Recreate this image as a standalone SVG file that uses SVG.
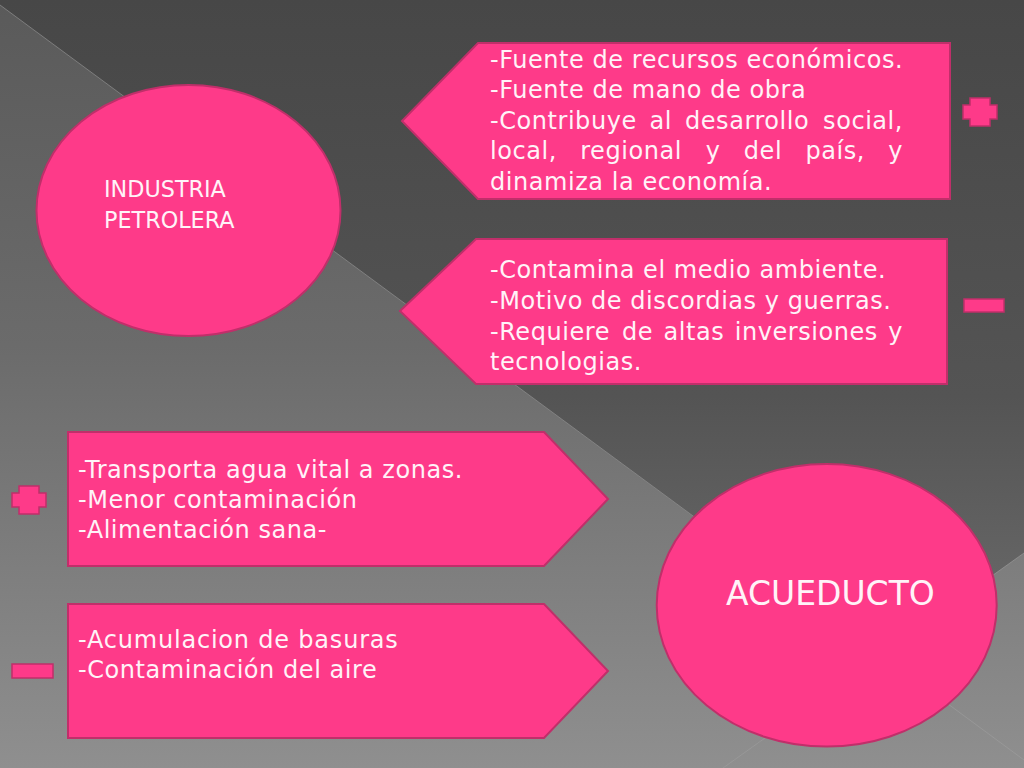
<svg xmlns="http://www.w3.org/2000/svg" width="1024" height="768" viewBox="0 0 1024 768">
<defs>
<linearGradient id="bgLight" gradientUnits="userSpaceOnUse" x1="0" y1="0" x2="0" y2="768">
<stop offset="0" stop-color="#5a5a5a"/>
<stop offset="0.45" stop-color="#6b6b6b"/>
<stop offset="1" stop-color="#8f8f8f"/>
</linearGradient>
<linearGradient id="bgDark" gradientUnits="userSpaceOnUse" x1="0" y1="0" x2="0" y2="660">
<stop offset="0" stop-color="#474747"/>
<stop offset="0.6" stop-color="#545454"/>
<stop offset="1" stop-color="#6c6c6c"/>
</linearGradient>
</defs>
<style>
.shape{fill:#fe3a89;stroke:#c02f6a;stroke-width:2}
.icon{fill:#fe3a89;stroke:#c02f6a;stroke-width:1.5}
.t{font-family:"DejaVu Sans","Liberation Sans",sans-serif;font-size:24px;fill:#fff3f8;letter-spacing:0.55px}
.title{font-family:"DejaVu Sans","Liberation Sans",sans-serif;fill:#fff3f8}
.bgline{stroke:#a0a0a0;stroke-width:1;stroke-opacity:0.55;fill:none}
</style>
<g id="background">
<rect x="0" y="0" width="1024" height="768" fill="url(#bgLight)"/>
<polygon points="0,0 1024,0 1024,553 881,655 0,5" fill="url(#bgDark)"/>
<line class="bgline" x1="0" y1="5" x2="1024" y2="760"/>
<line class="bgline" x1="723" y1="768" x2="1024" y2="553"/>
</g>
<g id="industria">
<ellipse class="shape" cx="188.5" cy="210.5" rx="152" ry="125.5"/>
<text class="title" font-size="22.3"><tspan x="104" y="197">INDUSTRIA</tspan><tspan x="104" y="228">PETROLERA</tspan></text>
</g>
<g id="pros-industria">
<polygon class="shape" points="402,121 478,43 950,43 950,199 478,199"/>
<text class="t">
<tspan x="490" y="67.5">-Fuente de recursos económicos.</tspan>
<tspan x="490" y="98.1">-Fuente de mano de obra</tspan>
</text>
<text class="t" y="128.7"><tspan x="490">-Contribuye</tspan><tspan x="649.6">al</tspan><tspan x="685">desarrollo</tspan><tspan x="903" text-anchor="end">social,</tspan></text>
<text class="t" y="159.3"><tspan x="490">local,</tspan><tspan x="580.2">regional</tspan><tspan x="705.7">y</tspan><tspan x="743.8">del</tspan><tspan x="805.4">país,</tspan><tspan x="903" text-anchor="end">y</tspan></text>
<text class="t" x="490" y="189.9">dinamiza la economía.</text>
</g>
<g id="contras-industria">
<polygon class="shape" points="400,311 476,239 947,239 947,384 476,384"/>
<text class="t">
<tspan x="490" y="278">-Contamina el medio ambiente.</tspan>
<tspan x="490" y="309">-Motivo de discordias y guerras.</tspan>
</text>
<text class="t" y="340"><tspan x="490">-Requiere</tspan><tspan x="622">de</tspan><tspan x="663.5">altas</tspan><tspan x="734.7">inversiones</tspan><tspan x="903" text-anchor="end">y</tspan></text>
<text class="t" x="490" y="370">tecnologias.</text>
</g>
<g id="pros-acueducto">
<polygon class="shape" points="68,432 544,432 608,499 544,566 68,566"/>
<text class="t">
<tspan x="78" y="478">-Transporta agua vital a zonas.</tspan>
<tspan x="78" y="508">-Menor contaminación</tspan>
<tspan x="78" y="538">-Alimentación sana-</tspan>
</text>
</g>
<g id="contras-acueducto">
<polygon class="shape" points="68,604 544,604 608,671 544,738 68,738"/>
<text class="t">
<tspan x="78" y="648" letter-spacing="0.8">-Acumulacion de basuras</tspan>
<tspan x="78" y="678">-Contaminación del aire</tspan>
</text>
</g>
<g id="acueducto">
<ellipse class="shape" cx="826.7" cy="605.3" rx="170" ry="141.3"/>
<text class="title" font-size="33" x="726" y="605">ACUEDUCTO</text>
</g>
<g id="plus-top">
<polygon class="icon" points="970,98 990,98 990,105 997,105 997,119 990,119 990,126 970,126 970,119 963,119 963,105 970,105"/>
</g>
<g id="minus-top">
<rect class="icon" x="964" y="299" width="40" height="13"/>
</g>
<g id="plus-left">
<polygon class="icon" points="19,486 39,486 39,493 46,493 46,507 39,507 39,514 19,514 19,507 12,507 12,493 19,493"/>
</g>
<g id="minus-left">
<rect class="icon" x="12" y="664" width="41" height="14"/>
</g>
</svg>
